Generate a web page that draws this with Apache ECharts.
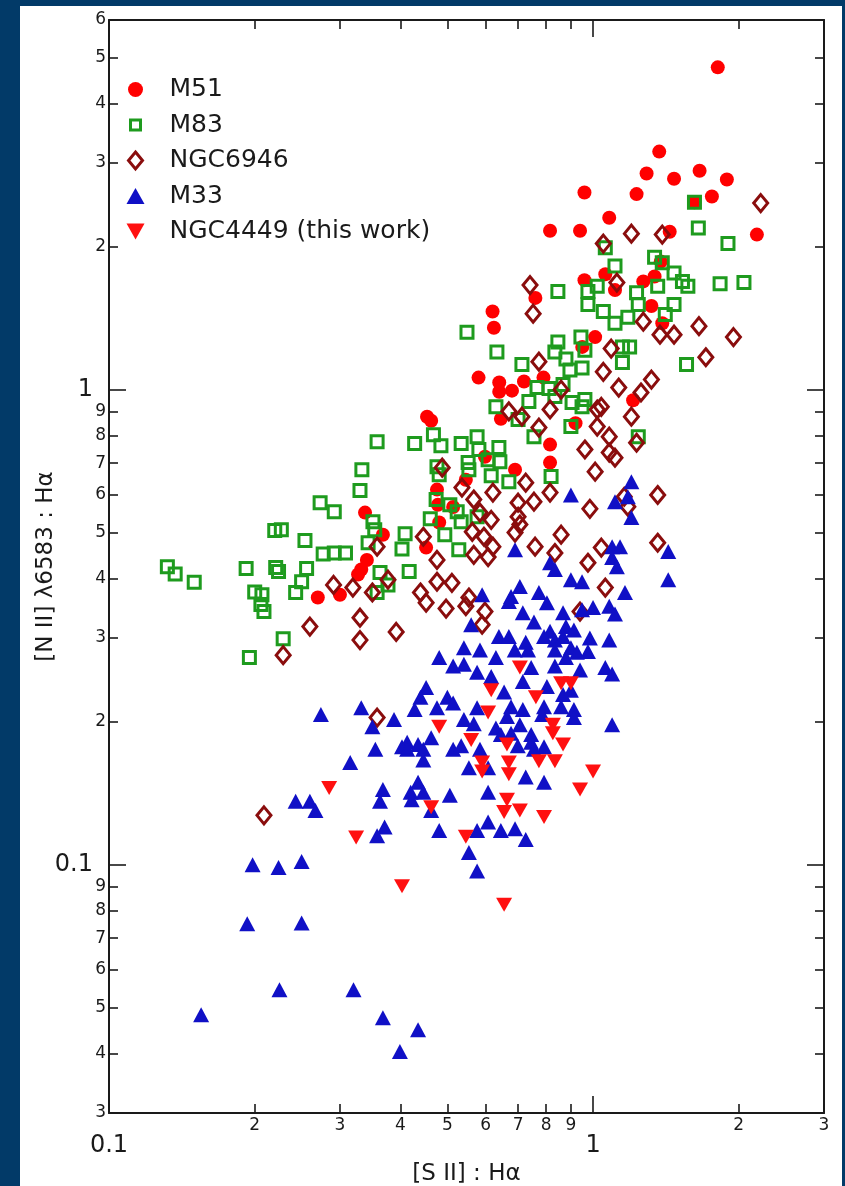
<!DOCTYPE html>
<html>
<head>
<meta charset="utf-8">
<title>[N II]/Hα vs [S II]/Hα</title>
<script src="https://cdn.jsdelivr.net/npm/echarts@6/dist/echarts.min.js"></script>
<style>
  html, body { margin: 0; padding: 0; background: #023a68; }
  #panel { position: absolute; left: 20px; top: 6px; width: 822px; height: 1180px; background: #ffffff; }
  #chart { position: absolute; left: 0; top: 0; width: 845px; height: 1186px; }
</style>
</head>
<body>
<div id="panel"></div>
<div id="chart"></div>
<script>
// Axis ranges (real line-ratio values; both axes are logarithmic)
const xRange = [0.1, 3];
const yRange = [0.03, 6];

// Tick positions and which of them are decades
const xTickValues = [0.1, 0.2, 0.3, 0.4, 0.5, 0.6, 0.7, 0.8, 0.9, 1, 2, 3];
const yTickValues = [0.03, 0.04, 0.05, 0.06, 0.07, 0.08, 0.09, 0.1, 0.2, 0.3, 0.4, 0.5, 0.6, 0.7, 0.8, 0.9, 1, 2, 3, 4, 5, 6];
const decadeValues = [0.1, 1];

// [S II]/Hα, [N II]λ6583/Hα pairs for each galaxy
const m51 = [
  [1.81, 4.77], [1.37, 3.17], [1.29, 2.85], [1.47, 2.78], [1.66, 2.89], [1.89, 2.77],
  [0.96, 2.60], [1.23, 2.58], [1.76, 2.55], [1.62, 2.48], [1.08, 2.30], [0.815, 2.16],
  [0.94, 2.16], [1.44, 2.15], [2.18, 2.12], [1.38, 1.86], [0.96, 1.70], [1.06, 1.75],
  [1.27, 1.69], [1.34, 1.73], [1.11, 1.62], [0.76, 1.56], [0.62, 1.46], [0.624, 1.35],
  [1.01, 1.29], [0.95, 1.23], [1.32, 1.50], [1.39, 1.38], [0.58, 1.06], [0.64, 1.035],
  [0.64, 0.99], [0.68, 0.995], [0.72, 1.04], [0.79, 1.06], [1.21, 0.95], [0.454, 0.877],
  [0.463, 0.86], [0.645, 0.868], [0.92, 0.85], [0.815, 0.766], [0.815, 0.702], [0.598, 0.722],
  [0.69, 0.678], [0.546, 0.646], [0.476, 0.616], [0.478, 0.572], [0.514, 0.566], [0.338, 0.551],
  [0.481, 0.525], [0.368, 0.495], [0.452, 0.465], [0.341, 0.438], [0.332, 0.418], [0.327, 0.408],
  [0.270, 0.365], [0.300, 0.370]
];

const m83 = [
  [1.62, 2.48], [1.65, 2.19], [1.90, 2.03], [1.06, 1.99], [1.34, 1.90], [1.39, 1.85],
  [1.11, 1.82], [1.47, 1.76], [1.53, 1.69], [1.57, 1.65], [1.83, 1.67], [2.05, 1.68],
  [0.846, 1.61], [0.976, 1.61], [1.02, 1.65], [1.23, 1.60], [1.36, 1.65], [0.549, 1.32],
  [0.633, 1.20], [0.976, 1.51], [1.05, 1.46], [1.11, 1.38], [1.18, 1.42], [1.24, 1.51],
  [1.47, 1.51], [1.41, 1.44], [0.834, 1.20], [0.846, 1.26], [0.944, 1.29], [0.962, 1.21],
  [0.879, 1.16], [0.896, 1.10], [0.949, 1.11], [1.15, 1.14], [1.15, 1.23], [1.19, 1.23],
  [1.56, 1.13], [0.713, 1.13], [0.766, 1.01], [0.811, 1.005], [0.867, 1.025], [0.834, 0.967],
  [0.905, 0.94], [0.949, 0.92], [0.962, 0.953], [0.63, 0.92], [0.737, 0.944], [0.70, 0.865],
  [0.755, 0.796], [0.90, 0.836], [1.24, 0.796], [0.358, 0.777], [0.428, 0.77], [0.468, 0.804],
  [0.485, 0.762], [0.534, 0.77], [0.576, 0.796], [0.639, 0.755], [0.581, 0.748], [0.552, 0.702],
  [0.607, 0.712], [0.642, 0.705], [0.554, 0.678], [0.476, 0.688], [0.481, 0.662], [0.67, 0.64],
  [0.616, 0.659], [0.819, 0.656], [0.333, 0.678], [0.33, 0.613], [0.273, 0.578], [0.292, 0.553],
  [0.474, 0.587], [0.506, 0.572], [0.524, 0.553], [0.461, 0.535], [0.576, 0.54], [0.534, 0.527],
  [0.351, 0.527], [0.354, 0.507], [0.409, 0.497], [0.494, 0.495], [0.22, 0.505], [0.227, 0.507],
  [0.254, 0.481], [0.277, 0.451], [0.292, 0.453], [0.308, 0.453], [0.343, 0.476], [0.403, 0.462],
  [0.528, 0.46], [0.363, 0.412], [0.417, 0.414], [0.132, 0.424], [0.137, 0.409], [0.150, 0.393],
  [0.192, 0.42], [0.221, 0.422], [0.224, 0.414], [0.256, 0.42], [0.25, 0.394], [0.20, 0.375],
  [0.207, 0.37], [0.243, 0.374], [0.377, 0.388], [0.358, 0.374], [0.206, 0.353], [0.209, 0.341],
  [0.229, 0.299], [0.195, 0.273]
];

const ngc6946 = [
  [2.22, 2.47], [1.20, 2.13], [1.39, 2.12], [1.05, 2.03], [1.12, 1.68], [0.741, 1.66],
  [0.752, 1.445], [1.655, 1.36], [1.95, 1.29], [1.71, 1.17], [1.375, 1.305], [1.47, 1.305],
  [1.27, 1.39], [1.09, 1.22], [0.773, 1.145], [1.05, 1.09], [1.13, 1.01], [1.32, 1.05],
  [1.256, 0.986], [0.859, 1.0], [0.815, 0.908], [0.67, 0.90], [0.713, 0.877], [0.773, 0.832],
  [1.02, 0.908], [1.04, 0.92], [1.20, 0.877], [1.02, 0.836], [1.08, 0.796], [1.23, 0.773],
  [0.962, 0.748], [1.08, 0.737], [1.11, 0.719], [1.01, 0.672], [0.488, 0.685], [0.536, 0.622],
  [0.567, 0.587], [0.621, 0.607], [0.726, 0.637], [0.815, 0.607], [0.70, 0.578], [0.755, 0.581],
  [0.584, 0.551], [0.616, 0.532], [0.563, 0.502], [0.595, 0.49], [0.70, 0.54], [0.706, 0.52],
  [0.69, 0.50], [0.859, 0.495], [0.985, 0.561], [1.16, 0.595], [1.18, 0.567], [1.36, 0.60],
  [1.36, 0.476], [1.04, 0.465], [0.759, 0.467], [0.621, 0.467], [0.567, 0.449], [0.607, 0.444],
  [0.446, 0.49], [0.358, 0.467], [0.476, 0.438], [0.834, 0.453], [0.976, 0.432], [1.06, 0.383],
  [0.291, 0.388], [0.319, 0.383], [0.35, 0.374], [0.377, 0.398], [0.44, 0.374], [0.476, 0.394],
  [0.511, 0.392], [0.554, 0.365], [0.26, 0.317], [0.33, 0.331], [0.33, 0.297], [0.392, 0.309],
  [0.229, 0.276], [0.452, 0.356], [0.497, 0.346], [0.546, 0.35], [0.598, 0.341], [0.59, 0.32],
  [0.94, 0.341], [0.358, 0.204], [0.209, 0.127]
];

const m33 = [
  [1.20, 0.64], [0.90, 0.60], [1.11, 0.581], [1.18, 0.595], [1.20, 0.538], [0.69, 0.46],
  [1.095, 0.467], [1.137, 0.467], [1.43, 0.456], [0.815, 0.432], [0.834, 0.418], [1.095, 0.443],
  [1.12, 0.424], [1.43, 0.398], [0.90, 0.398], [0.949, 0.394], [0.706, 0.385], [0.773, 0.374],
  [1.164, 0.374], [0.677, 0.367], [0.59, 0.37], [0.67, 0.358], [0.803, 0.356], [0.716, 0.339],
  [0.867, 0.339], [0.949, 0.344], [1.0, 0.348], [1.08, 0.35], [1.11, 0.337], [0.755, 0.324],
  [0.815, 0.31], [0.879, 0.317], [0.56, 0.32], [0.639, 0.302], [0.67, 0.302], [0.726, 0.294],
  [0.792, 0.302], [0.834, 0.297], [0.867, 0.302], [0.913, 0.312], [0.985, 0.30], [1.08, 0.297],
  [0.541, 0.286], [0.584, 0.283], [0.689, 0.283], [0.734, 0.283], [0.834, 0.283], [0.90, 0.286],
  [0.481, 0.273], [0.63, 0.273], [0.879, 0.273], [0.926, 0.28], [0.976, 0.281], [0.94, 0.257],
  [1.06, 0.26], [1.095, 0.252], [0.514, 0.262], [0.541, 0.264], [0.576, 0.254], [0.616, 0.249],
  [0.745, 0.26], [0.834, 0.262], [0.716, 0.243], [0.803, 0.237], [0.452, 0.236], [0.44, 0.225],
  [0.50, 0.225], [0.655, 0.231], [0.867, 0.228], [0.90, 0.233], [0.514, 0.219], [0.428, 0.212],
  [0.476, 0.214], [0.576, 0.214], [0.677, 0.215], [0.716, 0.212], [0.792, 0.215], [0.859, 0.215],
  [0.913, 0.212], [0.332, 0.214], [0.388, 0.202], [0.274, 0.207], [0.35, 0.195], [0.541, 0.202],
  [0.567, 0.198], [0.664, 0.205], [0.63, 0.194], [0.706, 0.197], [0.785, 0.207], [0.913, 0.204],
  [1.095, 0.197], [0.677, 0.189], [0.645, 0.188], [0.745, 0.188], [0.463, 0.185], [0.413, 0.181],
  [0.435, 0.179], [0.403, 0.177], [0.355, 0.175], [0.413, 0.175], [0.446, 0.175], [0.514, 0.175],
  [0.534, 0.178], [0.584, 0.175], [0.699, 0.178], [0.745, 0.181], [0.755, 0.175], [0.792, 0.177],
  [0.315, 0.164], [0.446, 0.166], [0.554, 0.16], [0.607, 0.16], [0.726, 0.153], [0.792, 0.149],
  [0.435, 0.149], [0.42, 0.142], [0.446, 0.142], [0.368, 0.144], [0.506, 0.14], [0.607, 0.142],
  [0.243, 0.136], [0.26, 0.136], [0.267, 0.13], [0.363, 0.136], [0.422, 0.137], [0.463, 0.13],
  [0.371, 0.12], [0.358, 0.115], [0.481, 0.118], [0.576, 0.118], [0.607, 0.123], [0.645, 0.118],
  [0.69, 0.119], [0.726, 0.113], [0.554, 0.106], [0.576, 0.097], [0.198, 0.100], [0.224, 0.0986],
  [0.25, 0.1015], [0.193, 0.0751], [0.25, 0.0754], [0.225, 0.0545], [0.32, 0.0545], [0.155, 0.0483],
  [0.368, 0.0476], [0.435, 0.0449], [0.399, 0.0404]
];

const ngc4449 = [
  [0.706, 0.26], [0.616, 0.233], [0.859, 0.241], [0.90, 0.241], [0.762, 0.225], [0.607, 0.209],
  [0.481, 0.195], [0.826, 0.197], [0.826, 0.189], [0.56, 0.183], [0.664, 0.179], [0.867, 0.179],
  [0.59, 0.164], [0.67, 0.164], [0.773, 0.165], [0.834, 0.165], [0.59, 0.157], [0.67, 0.155],
  [1.0, 0.157], [0.94, 0.144], [0.285, 0.145], [0.664, 0.137], [0.463, 0.132], [0.655, 0.129],
  [0.706, 0.130], [0.792, 0.126], [0.324, 0.114], [0.546, 0.1145], [0.403, 0.09], [0.655, 0.0823]
];

const lg = Math.log10;
const FONT = '"DejaVu Sans", "Liberation Sans", Arial, sans-serif';
const INK = '#1a1a1a';

// label text for a tick given its log10 position: decades in full, others as leading digit
function tickText(v) {
  const r = Math.pow(10, v);
  const p = Math.floor(Math.log10(r) + 1e-9);
  const lead = Math.round(r / Math.pow(10, p));
  if (lead === 1) {
    return '{big|' + (p < 0 ? r.toFixed(-p) : r.toFixed(0)) + '}';
  }
  return '{small|' + lead + '}';
}

const isDecade = v => decadeValues.some(d => Math.abs(d - v) < 1e-9);
const xMinor = xTickValues.filter(v => !isDecade(v)).map(lg);
const xMajor = xTickValues.filter(isDecade).map(lg);
const yMinor = yTickValues.filter(v => !isDecade(v)).map(lg);
const yMajor = yTickValues.filter(isDecade).map(lg);

function frameAxis(position, range, ticks, tickLen, showLine, labels) {
  const ax = {
    type: 'value',
    position: position,
    min: lg(range[0]),
    max: lg(range[1]),
    splitLine: { show: false },
    axisLine: { show: showLine, onZero: false, lineStyle: { color: INK, width: 2 } },
    axisTick: { show: true, inside: true, length: tickLen, customValues: ticks,
                lineStyle: { color: INK, width: 1.6 } },
    axisLabel: { show: false }
  };
  if (labels) {
    ax.axisLabel = labels;
  }
  return ax;
}

const xLabels = {
  show: true,
  customValues: xTickValues.map(lg),
  margin: 4,
  formatter: tickText,
  color: INK,
  fontFamily: FONT,
  rich: {
    small: { fontSize: 17, fontFamily: FONT, color: INK },
    big: { fontSize: 24, fontFamily: FONT, color: INK, padding: [17, 0, 0, 0] }
  }
};

const yLabels = {
  show: true,
  customValues: yTickValues.map(lg),
  margin: 3,
  formatter: tickText,
  color: INK,
  fontFamily: FONT,
  rich: {
    small: { fontSize: 17, fontFamily: FONT, color: INK },
    big: { fontSize: 24, fontFamily: FONT, color: INK, padding: [0, 13, 0, 0] }
  }
};

const xMain = frameAxis('bottom', xRange, xMinor, 9, true, xLabels);
xMain.name = '[S II] : Hα';
xMain.nameLocation = 'middle';
xMain.nameGap = 50;
xMain.nameTextStyle = { fontSize: 23, fontFamily: FONT, color: INK };

const yMain = frameAxis('left', yRange, yMinor, 9, true, yLabels);
yMain.name = '[N II] λ6583 : Hα';
yMain.nameLocation = 'middle';
yMain.nameGap = 51;
yMain.nameMoveOverlap = false;
yMain.nameTextStyle = { fontSize: 23, fontFamily: FONT, color: INK };

const hollow = 'rgba(255,255,255,0)';

// legend glyphs, each drawn inside a 20x20 box so they keep their own sizes
const legendIcons = {
  circle: 'path://M0,0M20,20M2.5,10A7.5,7.5,0,1,1,17.5,10A7.5,7.5,0,1,1,2.5,10Z',
  square: 'path://M0,0M20,20M5,5L15,5L15,15L5,15Z',
  diamond: 'path://M0,0M20,20M10,1.5L17,10L10,18.5L3,10Z',
  up: 'path://M0,0M20,20M10,2L19,18L1,18Z',
  down: 'path://M0,0M20,20M1,2L19,2L10,18Z'
};

const option = {
  animation: false,
  grid: { left: 109, right: 21, top: 20, bottom: 73, outerBoundsMode: 'none' },
  xAxis: [
    xMain,
    frameAxis('bottom', xRange, xMajor, 17, false),
    frameAxis('top', xRange, xMinor, 9, true),
    frameAxis('top', xRange, xMajor, 17, false)
  ],
  yAxis: [
    yMain,
    frameAxis('left', yRange, yMajor, 17, false),
    frameAxis('right', yRange, yMinor, 9, true),
    frameAxis('right', yRange, yMajor, 17, false)
  ],
  legend: {
    orient: 'vertical',
    left: 119,
    top: 72,
    itemWidth: 58,
    itemHeight: 20,
    itemGap: 10.5,
    symbolKeepAspect: true,
    textStyle: { fontSize: 25, fontFamily: FONT, color: INK, lineHeight: 20 },
    data: [
      { name: 'M51', icon: legendIcons.circle },
      { name: 'M83', icon: legendIcons.square, itemStyle: { borderWidth: 3 } },
      { name: 'NGC6946', icon: legendIcons.diamond, itemStyle: { borderWidth: 3 } },
      { name: 'M33', icon: legendIcons.up },
      { name: 'NGC4449 (this work)', icon: legendIcons.down }
    ]
  },
  series: [
    {
      name: 'M51', type: 'scatter', symbol: 'circle', symbolSize: 14,
      itemStyle: { color: '#ff0000', opacity: 1 },
      data: m51.map(p => [lg(p[0]), lg(p[1])])
    },
    {
      name: 'M83', type: 'scatter', symbol: 'rect', symbolSize: 12,
      itemStyle: { color: hollow, borderColor: '#1e9b1e', borderWidth: 3, opacity: 1 },
      data: m83.map(p => [lg(p[0]), lg(p[1])])
    },
    {
      name: 'NGC6946', type: 'scatter', symbol: 'diamond', symbolSize: [14, 17],
      itemStyle: { color: hollow, borderColor: '#8a0d0d', borderWidth: 3, opacity: 1 },
      data: ngc6946.map(p => [lg(p[0]), lg(p[1])])
    },
    {
      name: 'M33', type: 'scatter', symbol: 'triangle', symbolSize: [16, 15],
      itemStyle: { color: '#1010c6', opacity: 1 },
      data: m33.map(p => [lg(p[0]), lg(p[1])])
    },
    {
      name: 'NGC4449 (this work)', type: 'scatter', symbol: 'path://M0,0L10,0L5,9Z', symbolSize: [16, 14],
      itemStyle: { color: '#ff1010', opacity: 1 },
      data: ngc4449.map(p => [lg(p[0]), lg(p[1])])
    }
  ]
};

const chart = echarts.init(document.getElementById('chart'), null, { renderer: 'canvas' });
chart.setOption(option);
</script>
</body>
</html>
